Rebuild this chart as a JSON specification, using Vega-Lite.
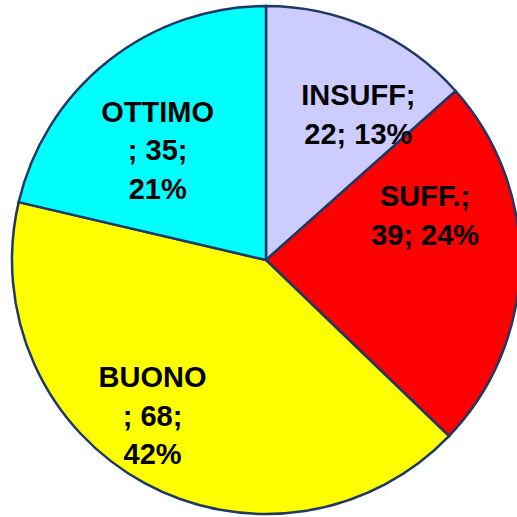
{
  "$schema": "https://vega.github.io/schema/vega-lite/v6.json",
  "width": 502,
  "height": 514,
  "autosize": {"type": "none"},
  "padding": {"left": 15, "top": 3, "right": 0, "bottom": 0},
  "background": "white",
  "view": {"stroke": null},
  "data": {
    "values": [
      {"categoria": "INSUFF", "n": 22, "ord": 1, "label": "INSUFF;\n22; 13%"},
      {"categoria": "SUFF.", "n": 39, "ord": 2, "label": "SUFF.;\n39; 24%"},
      {"categoria": "BUONO", "n": 68, "ord": 3, "label": "BUONO\n; 68;\n42%"},
      {"categoria": "OTTIMO", "n": 35, "ord": 4, "label": "OTTIMO\n; 35;\n21%"}
    ]
  },
  "encoding": {
    "theta": {"field": "n", "type": "quantitative", "stack": true},
    "order": {"field": "ord", "type": "quantitative"}
  },
  "layer": [
    {
      "mark": {"type": "arc", "outerRadius": 254, "stroke": "#1F3864", "strokeWidth": 2.5},
      "encoding": {
        "color": {
          "field": "categoria",
          "type": "nominal",
          "scale": {"domain": ["INSUFF", "SUFF.", "BUONO", "OTTIMO"], "range": ["#CCCCFF", "#FF0000", "#FFFF00", "#00FFFF"]},
          "legend": null
        }
      }
    },
    {
      "mark": {"type": "text", "radius": 188, "thetaOffset": 0.092, "font": "Liberation Sans", "fontWeight": "bold", "fontSize": 29, "lineBreak": "\n", "lineHeight": 38.5, "fill": "black", "align": "center", "baseline": "middle"},
      "encoding": {"text": {"condition": {"test": "datum.categoria === 'INSUFF'", "field": "label", "type": "nominal"}, "value": ""}}
    },
    {
      "mark": {"type": "text", "radius": 171, "thetaOffset": -0.394, "font": "Liberation Sans", "fontWeight": "bold", "fontSize": 29, "lineBreak": "\n", "lineHeight": 38.5, "fill": "black", "align": "center", "baseline": "middle"},
      "encoding": {"text": {"condition": {"test": "datum.categoria === 'SUFF.'", "field": "label", "type": "nominal"}, "value": ""}}
    },
    {
      "mark": {"type": "text", "radius": 164, "thetaOffset": 0.266, "font": "Liberation Sans", "fontWeight": "bold", "fontSize": 29, "lineBreak": "\n", "lineHeight": 38.5, "fill": "black", "align": "center", "baseline": "middle"},
      "encoding": {"text": {"condition": {"test": "datum.categoria === 'BUONO'", "field": "label", "type": "nominal"}, "value": ""}}
    },
    {
      "mark": {"type": "text", "radius": 183, "thetaOffset": 0.037, "font": "Liberation Sans", "fontWeight": "bold", "fontSize": 29, "lineBreak": "\n", "lineHeight": 38.5, "fill": "black", "align": "center", "baseline": "middle"},
      "encoding": {"text": {"condition": {"test": "datum.categoria === 'OTTIMO'", "field": "label", "type": "nominal"}, "value": ""}}
    }
  ]
}
